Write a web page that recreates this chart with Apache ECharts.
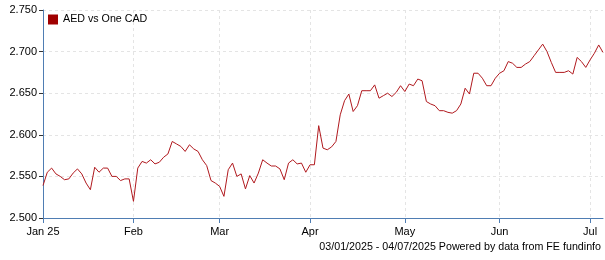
<!DOCTYPE html>
<html><head><meta charset="utf-8">
<script src="https://cdn.jsdelivr.net/npm/echarts@6/dist/echarts.min.js"></script>
<style>html,body{margin:0;padding:0;background:#fff}#c{width:605px;height:260px}</style>
</head><body><div id="c"></div>
<script>
// Business days 03 Jan 2025 - 04 Jul 2025
var startDate = [2025, 0, 3];
var endDate = [2025, 6, 4];
var values = [
2.539,2.555,2.560,2.553,2.550,2.546,2.547,2.554,2.559,2.553,
2.542,2.534,2.561,2.555,2.560,2.560,2.550,2.550,2.545,2.547,
2.547,2.520,2.560,2.568,2.566,2.570,2.565,2.567,2.573,2.577,
2.592,2.589,2.586,2.580,2.588,2.583,2.580,2.570,2.563,2.545,
2.542,2.538,2.526,2.558,2.566,2.550,2.553,2.535,2.551,2.542,
2.554,2.570,2.566,2.5625,2.5625,2.559,2.546,2.566,2.570,2.565,
2.566,2.555,2.564,2.564,2.611,2.584,2.582,2.5855,2.592,2.624,
2.641,2.649,2.628,2.635,2.653,2.653,2.653,2.660,2.644,2.647,
2.650,2.646,2.651,2.659,2.652,2.661,2.659,2.667,2.665,2.640,
2.637,2.635,2.629,2.629,2.627,2.626,2.629,2.637,2.656,2.649,
2.674,2.674,2.668,2.659,2.659,2.668,2.674,2.677,2.688,2.686,
2.681,2.681,2.685,2.688,2.695,2.702,2.709,2.700,2.687,2.675,
2.675,2.675,2.677,2.673,2.693,2.688,2.681,2.690,2.698,2.708,
2.699];
var monthLabels = ['Jan 25','Feb','Mar','Apr','May','Jun','Jul'];
var yTicks = ['2.500','2.550','2.600','2.650','2.700','2.750'];
var seriesName = 'AED vs One CAD';
var footer = '03/01/2025 - 04/07/2025 Powered by data from FE fundinfo';

var categories = [];
var tickIdx = {};
(function(){
  var d = new Date(startDate[0], startDate[1], startDate[2]);
  var e = new Date(endDate[0], endDate[1], endDate[2]);
  var lastMonth = -1, m = 0;
  while (d <= e) {
    var wd = d.getDay();
    if (wd !== 0 && wd !== 6) {
      if (d.getMonth() !== lastMonth) { tickIdx[categories.length] = monthLabels[m++]; lastMonth = d.getMonth(); }
      categories.push(d.getFullYear() + '-' + (d.getMonth()+1) + '-' + d.getDate());
    }
    d.setDate(d.getDate() + 1);
  }
})();
function isTick(i){ return tickIdx.hasOwnProperty(i); }

var font = 'Liberation Sans, Arial, sans-serif';
var chart = echarts.init(document.getElementById('c'), null, {renderer:'canvas'});
chart.setOption({
  animation: false,
  grid: {left: 43, right: 2, top: 10, bottom: 42, containLabel: false},
  legend: {
    left: 48, top: 14, padding: 0, itemWidth: 10, itemHeight: 10, itemGap: 4,
    icon: 'rect',
    textStyle: {fontFamily: font, fontSize: 10.7, color: '#000'},
    data: [{name: seriesName, itemStyle: {color: '#a00000'}}]
  },
  xAxis: {
    type: 'category', data: categories, boundaryGap: false,
    axisLine: {lineStyle: {color: '#4f7db3', width: 1}},
    axisTick: {interval: function(i){return isTick(i);}, length: 5, lineStyle: {color: '#4f7db3'}},
    axisLabel: {interval: function(i){return isTick(i);}, formatter: function(v, i){ return tickIdx[i] || ''; },
      fontFamily: font, fontSize: 11, color: '#000', margin: 8},
    splitLine: {show: true, interval: function(i){return isTick(i);}, lineStyle: {color: '#e4e4e4', type: [3,3]}}
  },
  yAxis: {
    type: 'value', min: 2.5, max: 2.75, interval: 0.05,
    axisLine: {show: true, lineStyle: {color: '#4f7db3', width: 1}},
    axisTick: {show: true, length: 4, lineStyle: {color: '#333'}},
    axisLabel: {formatter: function(v){ return v.toFixed(3); }, fontFamily: font, fontSize: 11, color: '#000', margin: 6},
    splitLine: {show: true, lineStyle: {color: '#e4e4e4', type: [3,3]}}
  },
  series: [{
    name: seriesName, type: 'line', data: values, showSymbol: false, symbol: 'none',
    lineStyle: {color: '#b0191e', width: 1}, itemStyle: {color: '#a00000'}
  }],
  graphic: [{
    type: 'text', right: 4, top: 242,
    style: {text: footer, fontFamily: font, fontSize: 10.7, fill: '#000'}
  }]
});
</script></body></html>
